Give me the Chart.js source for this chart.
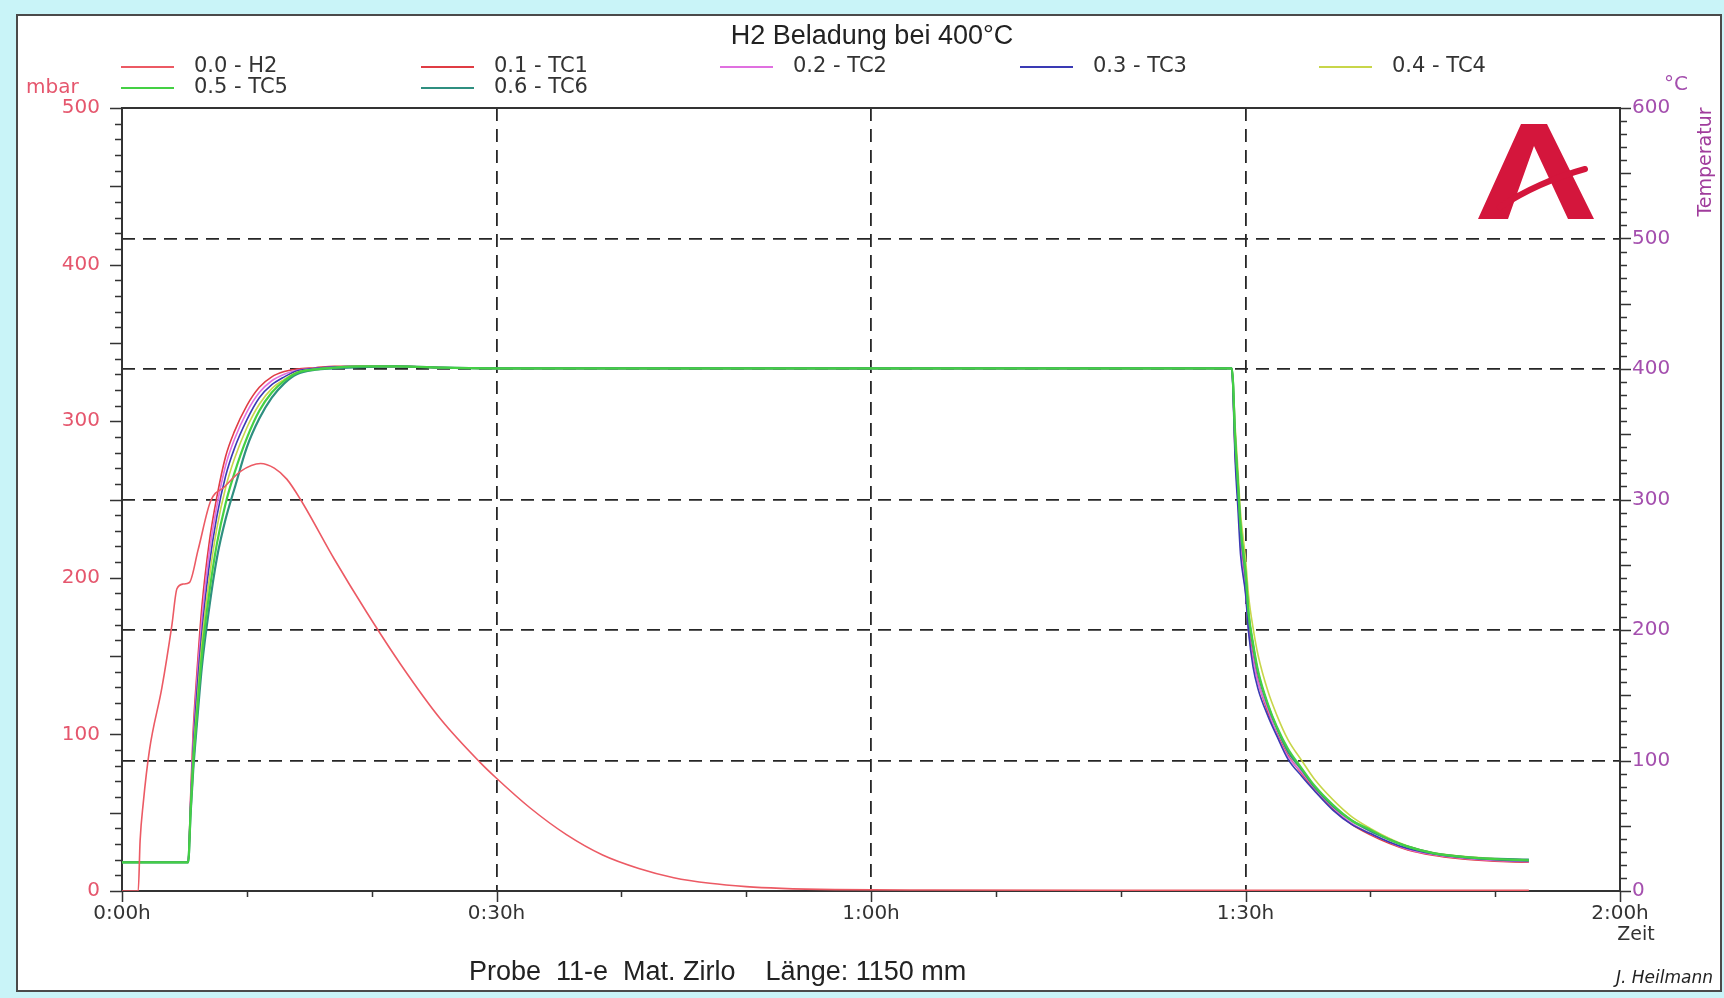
<!DOCTYPE html>
<html>
<head>
<meta charset="utf-8">
<script src="https://cdn.jsdelivr.net/npm/chart.js@4.4.1/dist/chart.umd.min.js"></script>
<style>
  html, body { margin: 0; padding: 0; background: #c9f4f8; }
  #wrap { position: relative; width: 1724px; height: 998px; overflow: hidden; }
  #panel { position: absolute; left: 16px; top: 14px; width: 1706px; height: 978px; box-sizing: border-box;
           background: #fff; border: 2px solid #4a4a4a; }
  canvas { position: absolute; left: 0; top: 0; }
</style>
</head>
<body>
<div id="wrap">
  <div id="panel"></div>
  <canvas id="chart" width="1724" height="998"></canvas>
</div>
<script>
const FONT = "'Liberation Sans', Arial, Helvetica, sans-serif";
const WIDE = "'DejaVu Sans', Verdana, sans-serif";

// time in minutes
const xTickLabels = ['0:00h', '0:30h', '1:00h', '1:30h', '2:00h'];

// H2 pressure (mbar, left axis)
const h2Time = [0, 1.3, 1.45, 1.7, 2.2, 3.2, 4.0, 4.4, 4.9, 5.4, 6.1, 7.1, 8.2, 9.5, 11.1, 12.2, 13.2, 14.3, 17.0, 19.6,
  22.3, 25.5, 28.7, 30, 32.7, 35.6, 38.5, 41.4, 44.2, 47.1, 50, 52.8, 57.1, 65, 80, 95, 112.7];
const h2Values = [0, 0, 32, 56, 90, 130, 170, 193, 196, 197, 218, 249, 258, 268, 273, 270, 263, 250, 212, 178,
  145, 110, 82, 72, 53, 36, 23, 14.4, 8.5, 4.9, 2.8, 1.7, 0.9, 0.6, 0.5, 0.5, 0.5];

// thermocouples (°C, right axis)
const tcTime = [0, 5.3, 5.5, 5.7, 6.0, 6.4, 7.0, 7.6, 8.3, 9.0,
  10, 11, 12, 13, 14, 15.5, 17, 19, 22, 26,
  30, 45, 60, 75, 88.9,
  89.0, 89.15, 89.4, 89.6, 90.0, 90.25, 90.6, 91.0, 91.8, 92.5,
  93.4, 94.5, 95.5, 97, 98.5, 100, 101.5, 103, 105, 107,
  109, 111, 112.7];
const tc1Values = [22, 22, 73, 122, 167, 218, 268, 302, 333, 352,
  372, 386, 394, 398, 400, 401, 402, 402, 402, 401,
  400.5, 400.5, 400.5, 400.5, 400.5,
  385, 340, 300, 268, 232, 202, 180, 161, 137, 121,
  104, 90, 78, 63, 51, 43, 36.5, 31.5, 27.5, 25,
  23.5, 22.5, 22];
const tc2Values = [22, 22, 70, 115, 160, 208, 260, 295, 326, 346,
  367, 382, 391, 396, 399, 400.5, 401.5, 402, 402, 401,
  400.5, 400.5, 400.5, 400.5, 400.5,
  386, 342, 302, 265, 230, 199, 178, 160, 139, 120,
  103, 91, 79, 64, 52, 44, 37.5, 32, 28, 25.5,
  24, 23, 22.5];
const tc3Values = [22, 22, 67, 108, 152, 198, 250, 287, 318, 339,
  361, 378, 388, 394, 398.5, 400.5, 401.5, 402, 402, 401,
  400.5, 400.5, 400.5, 400.5, 400.5,
  383, 335, 292, 258, 228, 198, 172, 155, 134, 119,
  101, 88, 77, 62, 51, 44, 37.5, 32.5, 28.5, 26,
  24.5, 23.5, 23];
const tc4Values = [22, 22, 64, 102, 142, 190, 240, 278, 309, 331,
  355, 373, 385, 392, 397.5, 400, 401, 402, 402, 401,
  400.5, 400.5, 400.5, 400.5, 400.5,
  392, 360, 322, 290, 255, 226, 202, 181, 153, 135,
  116, 100, 86, 70, 57, 48, 40.5, 34.5, 29.5, 27,
  25.5, 24.5, 24];
const tc5Values = [22, 22, 62, 97, 135, 181, 229, 266, 297, 320,
  347, 368, 382, 391, 397, 399.7, 401, 402, 402, 401,
  400.5, 400.5, 400.5, 400.5, 400.5,
  390, 352, 312, 280, 245, 213, 190, 169, 143, 126,
  109, 94, 81, 66, 54, 47, 39.5, 34, 29, 26.5,
  25, 24, 23.5];
const tc6Values = [22, 22, 60, 92, 128, 172, 218, 255, 285, 308,
  340, 362, 378, 389, 396, 399.5, 400.5, 401.5, 402, 401,
  400.5, 400.5, 400.5, 400.5, 400.5,
  389, 350, 310, 278, 242, 211, 188, 167, 142, 125,
  107, 93, 80, 65, 54, 46, 39.5, 34, 29, 26.5,
  25, 24.5, 24];

const seriesLabels = ['0.0 - H2', '0.1 - TC1', '0.2 - TC2', '0.3 - TC3', '0.4 - TC4', '0.5 - TC5', '0.6 - TC6'];
const seriesColors = ['#ec5a64', '#e03c44', '#e070e0', '#3a3ab4', '#c8d64a', '#44d044', '#2f8f80'];

const points = (times, values) => times.map((t, i) => ({ x: t, y: values[i] }));
const tcSets = [tc1Values, tc2Values, tc3Values, tc4Values, tc5Values, tc6Values];
const drawOrder = [0, 6, 5, 4, 3, 1, 2];

const datasets = [{
  label: seriesLabels[0],
  data: points(h2Time, h2Values),
  borderColor: seriesColors[0],
  borderWidth: 1.6,
  yAxisID: 'y',
  order: drawOrder[0],
}].concat(tcSets.map((vals, i) => ({
  label: seriesLabels[i + 1],
  data: points(tcTime, vals),
  borderColor: seriesColors[i + 1],
  borderWidth: i >= 4 ? 2.2 : 1.6,
  yAxisID: 'y2',
  order: drawOrder[i + 1],
})));

const edgeHidden = (max) => (c) => (c.tick.value === 0 || c.tick.value === max) ? 'rgba(0,0,0,0)' : '#262626';

// small tick marks, frame, legend and loose texts
const decorations = {
  id: 'decorations',
  afterDraw(chart) {
    const { ctx, chartArea: a, scales } = chart;
    ctx.save();
    ctx.strokeStyle = '#333';
    ctx.lineWidth = 1.5;
    ctx.beginPath();
    for (let v = 0; v <= 500; v += 10) {
      const y = Math.round(scales.y.getPixelForValue(v)) + 0.5;
      const len = v % 50 === 0 ? 12 : 7;
      ctx.moveTo(a.left - len, y); ctx.lineTo(a.left, y);
    }
    for (let v = 0; v <= 600; v += 10) {
      const y = Math.round(scales.y2.getPixelForValue(v)) + 0.5;
      const len = v % 50 === 0 ? 11 : 7;
      ctx.moveTo(a.right, y); ctx.lineTo(a.right + len, y);
    }
    for (let v = 0; v <= 120; v += 10) {
      const x = Math.round(scales.x.getPixelForValue(v)) + 0.5;
      const len = v % 30 === 0 ? 11 : 6;
      ctx.moveTo(x, a.bottom); ctx.lineTo(x, a.bottom + len);
    }
    ctx.stroke();

    // top frame line
    ctx.lineWidth = 2;
    ctx.beginPath();
    ctx.moveTo(a.left, a.top); ctx.lineTo(a.right, a.top);
    ctx.stroke();

    // legend, 5 columns
    const colX = [121, 421, 720, 1020, 1319];
    const rowY = [67, 88];
    ctx.font = '21px ' + WIDE;
    ctx.textBaseline = 'middle';
    ctx.textAlign = 'left';
    seriesLabels.forEach((label, i) => {
      const x = colX[i % 5], y = rowY[Math.floor(i / 5)];
      ctx.strokeStyle = seriesColors[i];
      ctx.lineWidth = 2;
      ctx.beginPath(); ctx.moveTo(x, y); ctx.lineTo(x + 53, y); ctx.stroke();
      ctx.fillStyle = '#333';
      ctx.fillText(label, x + 73, y);
    });

    // axis units
    ctx.fillStyle = '#e5566d';
    ctx.font = '20px ' + WIDE;
    ctx.fillText('mbar', 26, 88);
    ctx.fillStyle = '#a44fae';
    ctx.fillText('°C', 1664, 85);
    ctx.save();
    ctx.translate(1706, 162);
    ctx.rotate(-Math.PI / 2);
    ctx.textAlign = 'center';
    ctx.fillStyle = '#a03c9c';
    ctx.font = '19px ' + WIDE;
    ctx.fillText('Temperatur', 0, 0);
    ctx.restore();

    ctx.fillStyle = '#333';
    ctx.font = '19px ' + WIDE;
    ctx.textAlign = 'center';
    ctx.fillText('Zeit', 1636, 935);

    ctx.textAlign = 'left';
    ctx.font = '27px ' + FONT;
    ctx.fillStyle = '#222';
    ctx.fillText('Probe  11-e  Mat. Zirlo    Länge: 1150 mm', 469, 973);

    ctx.textAlign = 'right';
    ctx.font = 'italic 17px ' + WIDE;
    ctx.fillText('J. Heilmann', 1713, 979);

    // logo
    ctx.fillStyle = '#d4163c';
    ctx.beginPath();
    ctx.moveTo(1478, 219); ctx.lineTo(1521, 124); ctx.lineTo(1547, 124); ctx.lineTo(1594, 219);
    ctx.lineTo(1568, 219); ctx.lineTo(1534, 146); ctx.lineTo(1508, 219); ctx.closePath();
    ctx.fill();
    ctx.strokeStyle = '#d4163c';
    ctx.lineWidth = 6;
    ctx.lineCap = 'round';
    ctx.beginPath();
    ctx.moveTo(1500, 207); ctx.quadraticCurveTo(1538, 182, 1585, 169);
    ctx.stroke();
    ctx.restore();
  }
};

new Chart(document.getElementById('chart'), {
  type: 'line',
  data: { datasets },
  plugins: [decorations],
  options: {
    responsive: false,
    animation: false,
    layout: { padding: { left: 20, right: 0, top: 0, bottom: 0 } },
    elements: { point: { radius: 0 }, line: { cubicInterpolationMode: 'monotone' } },
    plugins: {
      legend: { display: false },
      tooltip: { enabled: false },
      title: {
        display: true,
        text: 'H2 Beladung bei 400°C',
        color: '#222',
        font: { family: FONT, size: 27, weight: 'normal' },
        padding: { top: 20, bottom: 55.6 },
      },
    },
    scales: {
      x: {
        type: 'linear', min: 0, max: 120,
        afterFit: (s) => { s.height = 107; },
        ticks: {
          stepSize: 30, maxRotation: 0, padding: 11, color: '#333',
          font: { family: WIDE, size: 20 },
          callback: (v) => xTickLabels[v / 30],
        },
        grid: { color: edgeHidden(120), lineWidth: 1.8, drawTicks: false },
        border: { display: true, color: '#333', width: 2, dash: [13, 8] },
      },
      y: {
        position: 'left', min: 0, max: 500,
        afterFit: (s) => { s.width = 102; },
        ticks: { stepSize: 100, padding: 14, color: '#e5566d', font: { family: WIDE, size: 20 } },
        grid: { display: false },
        border: { display: true, color: '#333', width: 2 },
      },
      y2: {
        position: 'right', min: 0, max: 600,
        afterFit: (s) => { s.width = 104; },
        ticks: { stepSize: 100, padding: 12, color: '#a44fae', font: { family: WIDE, size: 20 } },
        grid: { color: edgeHidden(600), lineWidth: 1.8, drawTicks: false },
        border: { display: true, color: '#333', width: 2, dash: [13, 8] },
      },
    },
  },
});
</script>
</body>
</html>
